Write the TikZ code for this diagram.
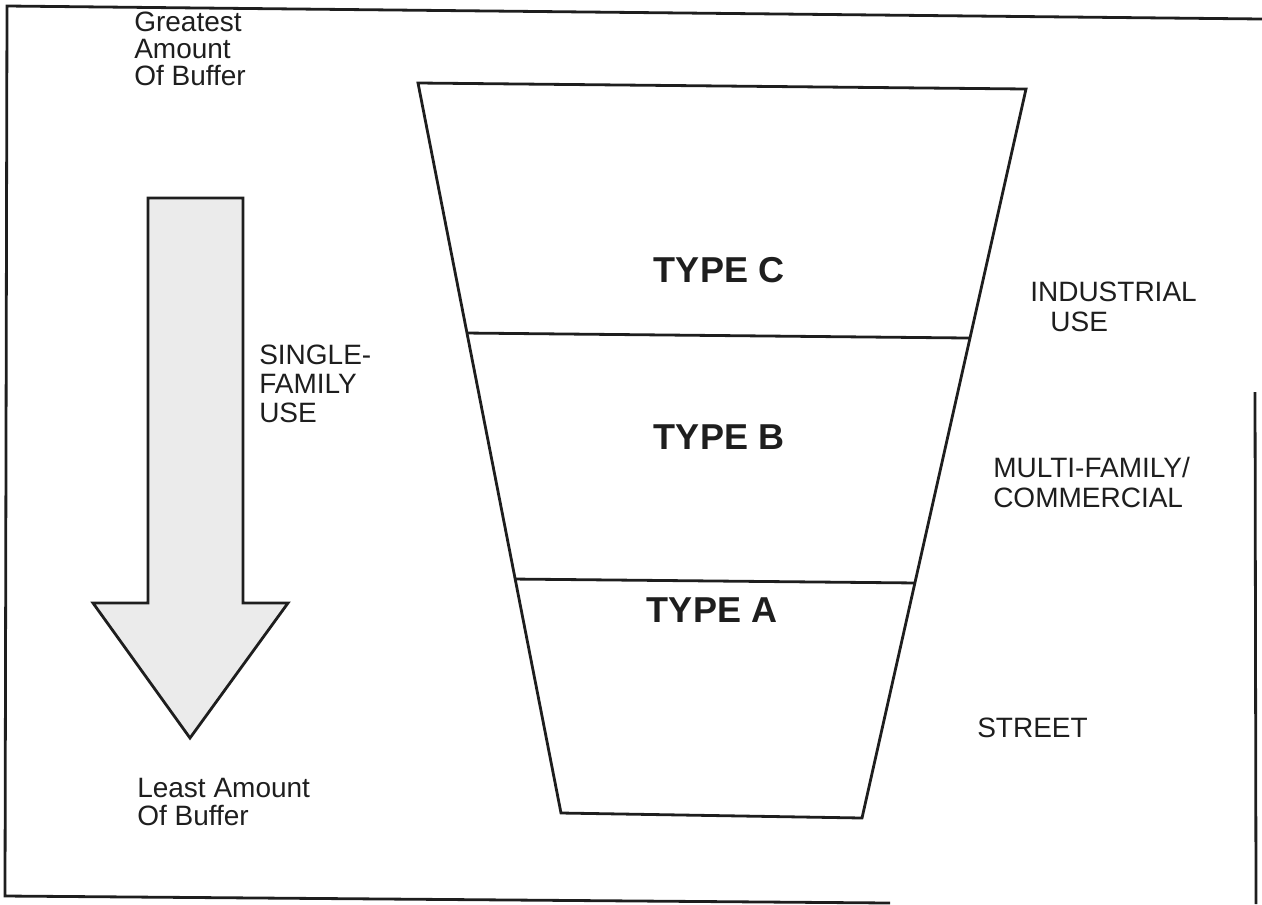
\documentclass[tikz,border=0pt]{standalone}
\usepackage{fontspec}
\setmainfont{Liberation Sans}
\usetikzlibrary{calc}
\definecolor{ink}{HTML}{1E1E1E}
\definecolor{arrowfill}{HTML}{EBEBEB}
\tikzset{
  rule/.style={draw=ink, line width=2.1pt, line join=miter},
  label/.style={inner sep=0pt, anchor=north west, align=left, text=ink,
    font=\fontsize{21pt}{22pt}\selectfont},
  lead/.style={font=\fontsize{21pt}{#1}\selectfont},
  typelabel/.style={inner sep=0pt, text=ink,
    font=\fontsize{27pt}{30pt}\selectfont\bfseries}
}
\begin{document}
\begin{tikzpicture}[x=0.75pt, y=-0.75pt]
  \useasboundingbox (0,0) rectangle (1262,904);

  % outer frame
  \draw[rule] (1262,19) -- (7,6) -- (5,896) -- (890,903);
  \draw[rule] (1255,392) -- (1256,904);

  % block arrow
  \draw[rule, fill=arrowfill]
    (148,198) -- (243,198) -- (243,603) -- (288,603) -- (190,738)
    -- (93,603) -- (148,603) -- cycle;

  % funnel
  \coordinate (tl) at (418,83);
  \coordinate (tr) at (1026,89);
  \coordinate (br) at (862,818);
  \coordinate (bl) at (561,813);
  \draw[rule] (tl) -- (tr) -- (br) -- (bl) -- cycle;
  \coordinate (cbL) at ($(tl)!0.3425!(bl)$);
  \coordinate (cbR) at ($(tr)!0.3416!(br)$);
  \coordinate (baL) at ($(tl)!0.6795!(bl)$);
  \coordinate (baR) at ($(tr)!0.6776!(br)$);
  \draw[rule] (cbL) -- (cbR);
  \draw[rule] (baL) -- (baR);

  % zone labels
  \node[typelabel] (typec) at (719,270) {TYPE C};
  \node[typelabel] (typeb) at (719,437) {TYPE B};
  \node[typelabel] (typea) at (712,610) {TYPE A};

  % left-hand captions
  \node[label, lead=20.25pt] (greatest) at (134,12)
    {Greatest\\Amount\\Of Buffer};
  \node[label, lead=21.75pt] (single) at (259,345)
    {SINGLE-\\FAMILY\\USE};
  \node[label, lead=21pt] (least) at (137,778)
    {Least Amount\\Of Buffer};

  % right-hand captions
  \node[label, lead=22.5pt] (industrial) at (1030,282)
    {INDUSTRIAL\\\hspace*{0.72em}USE};
  \node[label, lead=22.5pt] (multi) at (993,457)
    {MULTI-FAMILY/\\COMMERCIAL};
  \node[label, anchor=west] (street) at (977,728) {STREET};
\end{tikzpicture}
\end{document}
